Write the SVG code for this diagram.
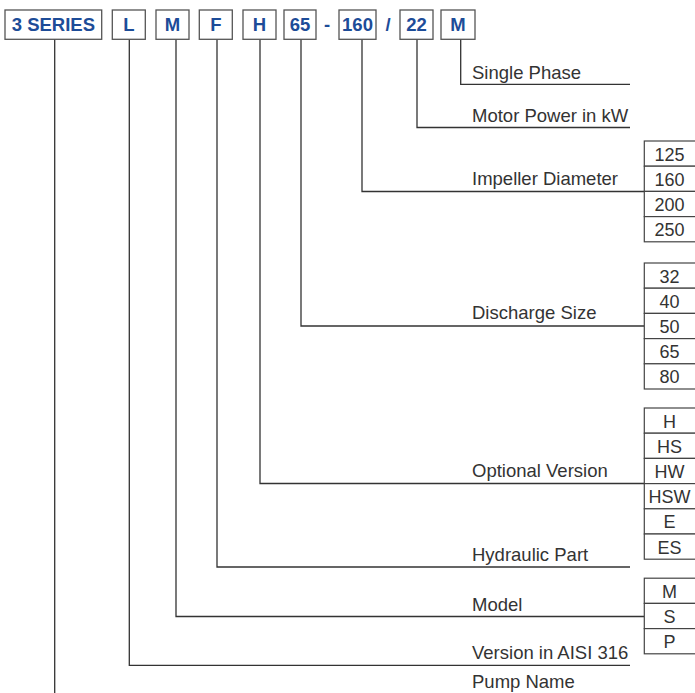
<svg xmlns="http://www.w3.org/2000/svg" width="695" height="693" viewBox="0 0 695 693">
<style>
.code rect{fill:#fff;stroke:#555;stroke-width:1.3}
.code text,.sep{font-family:"Liberation Sans",Arial,sans-serif;font-weight:bold;font-size:18.5px;fill:#1d4c98;text-anchor:middle}
.lbl{font-family:"Liberation Sans",Arial,sans-serif;font-size:18.5px;fill:#333}
.opt rect{fill:#fff;stroke:#444;stroke-width:1.2}
.opt text{font-family:"Liberation Sans",Arial,sans-serif;font-size:18px;fill:#333;text-anchor:middle}
#connectors path{fill:none;stroke:#333;stroke-width:1.3}
</style>
<rect width="695" height="693" fill="#fff"/>
<g id="connectors">
<path d="M460.7 39V84.3H630"/>
<path d="M417 39V127.5H630"/>
<path d="M362 39V191.5H644"/>
<path d="M301 39V326H644"/>
<path d="M260 39V483.5H644"/>
<path d="M217 39V567H630"/>
<path d="M176 39V616.5H644"/>
<path d="M129.3 39V665.3H630"/>
<path d="M54.7 39V693"/>
</g>
<g id="code-series" class="code"><rect x="5" y="10" width="96.7" height="29.3"/><text x="53.4" y="31">3 SERIES</text></g>
<g id="code-L" class="code"><rect x="112.3" y="10" width="33" height="29.3"/><text x="128.8" y="31">L</text></g>
<g id="code-M" class="code"><rect x="156" y="10" width="33" height="29.3"/><text x="172.5" y="31">M</text></g>
<g id="code-F" class="code"><rect x="199.3" y="10" width="33" height="29.3"/><text x="215.8" y="31">F</text></g>
<g id="code-H" class="code"><rect x="243" y="10" width="33" height="29.3"/><text x="259.5" y="31">H</text></g>
<g id="code-65" class="code"><rect x="284" y="10" width="32" height="29.3"/><text x="300" y="31">65</text></g>
<text class="sep" x="327" y="31">-</text>
<g id="code-160" class="code"><rect x="339" y="10" width="37" height="29.3"/><text x="357.5" y="31">160</text></g>
<text class="sep" x="388" y="31">/</text>
<g id="code-22" class="code"><rect x="400" y="10" width="33" height="29.3"/><text x="416.5" y="31">22</text></g>
<g id="code-M2" class="code"><rect x="441" y="10" width="34" height="29.3"/><text x="458" y="31">M</text></g>

<g id="label-single"><text class="lbl" x="472" y="78.5">Single Phase</text></g>
<g id="label-motor"><text class="lbl" x="472" y="121.5">Motor Power in kW</text></g>
<g id="label-impeller"><text class="lbl" x="472" y="185">Impeller Diameter</text></g>
<g id="label-discharge"><text class="lbl" x="472" y="319">Discharge Size</text></g>
<g id="label-optional"><text class="lbl" x="472" y="476.5">Optional Version</text></g>
<g id="label-hydraulic"><text class="lbl" x="472" y="561">Hydraulic Part</text></g>
<g id="label-model"><text class="lbl" x="472" y="610.5">Model</text></g>
<g id="label-aisi"><text class="lbl" x="472" y="658.5">Version in AISI 316</text></g>
<g id="label-pump"><text class="lbl" x="472" y="687.5">Pump Name</text></g>

<g id="opt-impeller" class="opt">
<rect x="644.3" y="141" width="55" height="25.2"/><text x="669.5" y="160.5">125</text>
<rect x="644.3" y="166.2" width="55" height="25.2"/><text x="669.5" y="185.7">160</text>
<rect x="644.3" y="191.4" width="55" height="25.2"/><text x="669.5" y="210.9">200</text>
<rect x="644.3" y="216.6" width="55" height="25.2"/><text x="669.5" y="236.1">250</text>
</g>
<g id="opt-discharge" class="opt">
<rect x="644.3" y="263" width="55" height="25.2"/><text x="669.5" y="282.5">32</text>
<rect x="644.3" y="288.2" width="55" height="25.2"/><text x="669.5" y="307.7">40</text>
<rect x="644.3" y="313.4" width="55" height="25.2"/><text x="669.5" y="332.9">50</text>
<rect x="644.3" y="338.6" width="55" height="25.2"/><text x="669.5" y="358.1">65</text>
<rect x="644.3" y="363.8" width="55" height="25.2"/><text x="669.5" y="383.3">80</text>
</g>
<g id="opt-version" class="opt">
<rect x="644.3" y="408" width="55" height="25.2"/><text x="669.5" y="427.5">H</text>
<rect x="644.3" y="433.2" width="55" height="25.2"/><text x="669.5" y="452.7">HS</text>
<rect x="644.3" y="458.4" width="55" height="25.2"/><text x="669.5" y="477.9">HW</text>
<rect x="644.3" y="483.6" width="55" height="25.2"/><text x="669.5" y="503.1">HSW</text>
<rect x="644.3" y="508.8" width="55" height="25.2"/><text x="669.5" y="528.3">E</text>
<rect x="644.3" y="534" width="55" height="25.2"/><text x="669.5" y="553.5">ES</text>
</g>
<g id="opt-model" class="opt">
<rect x="644.3" y="578.2" width="55" height="25.2"/><text x="669.5" y="597.7">M</text>
<rect x="644.3" y="603.4" width="55" height="25.2"/><text x="669.5" y="622.9">S</text>
<rect x="644.3" y="628.6" width="55" height="25.2"/><text x="669.5" y="648.1">P</text>
</g>
</svg>
